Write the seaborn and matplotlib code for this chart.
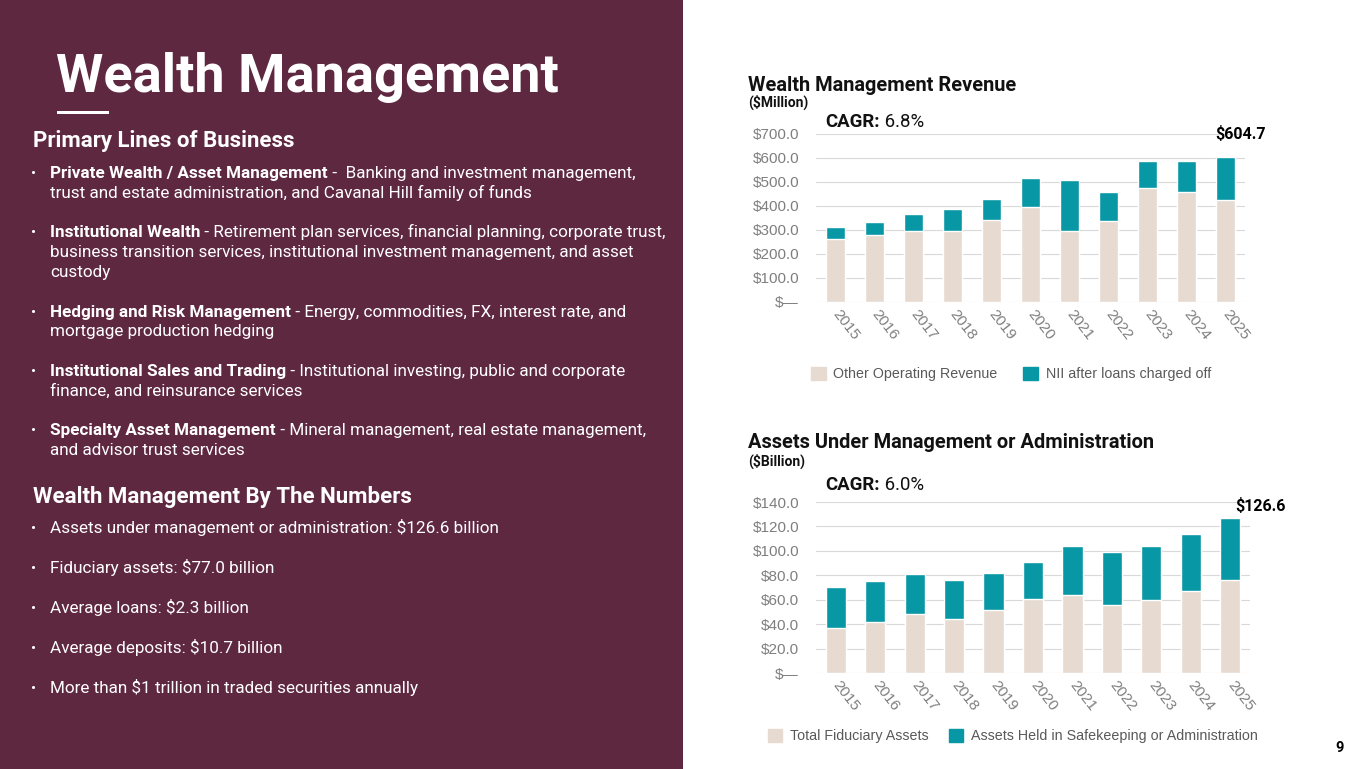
import matplotlib
matplotlib.use("Agg")
import matplotlib.pyplot as plt
from matplotlib.patches import Rectangle, Patch
from matplotlib.ticker import FuncFormatter, MultipleLocator
import seaborn as sns

# data
years = [str(y) for y in range(2015, 2026)]
other_revenue = [262, 280, 295, 295, 343, 397, 297, 339, 474, 460, 424]
nii_after_chargeoffs = [49, 53, 70, 93, 85, 121, 212, 120, 115, 129, 180.7]
fiduciary_assets = [36.9, 41.8, 47.9, 44.3, 51.4, 60.3, 63.8, 55.9, 59.4, 67.1, 76.5]
safekeeping_assets = [33.9, 33.3, 33.5, 31.9, 30.8, 30.7, 40.4, 43.1, 44.8, 46.8, 50.1]

business_lines = [
    ("Private Wealth / Asset Management", " -  Banking and investment management,",
     ["trust and estate administration, and Cavanal Hill family of funds"]),
    ("Institutional Wealth", " - Retirement plan services, financial planning, corporate trust,",
     ["business transition services, institutional investment management, and asset", "custody"]),
    ("Hedging and Risk Management", " - Energy, commodities, FX, interest rate, and",
     ["mortgage production hedging"]),
    ("Institutional Sales and Trading", " - Institutional investing, public and corporate",
     ["finance, and reinsurance services"]),
    ("Specialty Asset Management", " - Mineral management, real estate management,",
     ["and advisor trust services"]),
]
numbers = [
    "Assets under management or administration: $126.6 billion",
    "Fiduciary assets: $77.0 billion",
    "Average loans: $2.3 billion",
    "Average deposits: $10.7 billion",
    "More than $1 trillion in traded securities annually",
]

MAROON = "#5f2841"
BEIGE = "#e6dad1"
TEAL = "#0897a5"
GRAY = "#7f7f7f"
ARIAL = ["Liberation Sans", "DejaVu Sans"]
W, H = 1365, 769

sns.set_style("white")
plt.rcParams["font.family"] = ["Roboto", "DejaVu Sans"]

fig = plt.figure(figsize=(13.65, 7.69), dpi=100)

# background layer in pixel coordinates (origin top-left)
bg = fig.add_axes([0, 0, 1, 1], zorder=-1)
bg.set_xlim(0, W)
bg.set_ylim(H, 0)
bg.axis("off")
bg.add_patch(Rectangle((0, 0), 683, H, facecolor=MAROON, edgecolor="none"))
bg.add_patch(Rectangle((57, 111), 52, 3, facecolor="white", edgecolor="none"))

bg.text(56, 92, "Wealth Management", color="white", fontsize=39,
        fontweight="bold", va="baseline")


def two_part(x, y, bold, rest, size, color):
    t = bg.text(x, y, bold, color=color, fontsize=size, fontweight="bold", va="baseline")
    bg.annotate(rest, xy=(1, 0), xycoords=t, color=color, fontsize=size,
                va="bottom", ha="left", annotation_clip=False)


bg.text(33, 147, "Primary Lines of Business", color="white", fontsize=16,
        fontweight="bold", va="baseline")

line_h = 19.8
y = 178
for bold, rest, more in business_lines:
    bg.text(31, y, "•", color="white", fontsize=11, va="baseline")
    two_part(50, y, bold, rest, 12.3, "white")
    for extra in more:
        y += line_h
        bg.text(50, y, extra, color="white", fontsize=12.3, va="baseline")
    y += line_h * 2

bg.text(33, 503, "Wealth Management By The Numbers", color="white", fontsize=16,
        fontweight="bold", va="baseline")
for i, item in enumerate(numbers):
    yy = 533 + 40 * i
    bg.text(31, yy, "•", color="white", fontsize=11, va="baseline")
    bg.text(50, yy, item, color="white", fontsize=12.3, va="baseline")


def money(v, _):
    return "$\u2014" if v == 0 else f"${v:,.1f}"


def stacked(rect, base, top, ymax, step, label_dx, label_dy):
    ax = fig.add_axes(rect)
    totals = [b + t for b, t in zip(base, top)]
    sns.barplot(x=years, y=totals, color=TEAL, saturation=1, width=0.51, ax=ax, zorder=3)
    sns.barplot(x=years, y=base, color=BEIGE, saturation=1, width=0.51, ax=ax, zorder=3)
    ax.set_xlim(-0.5, 10.5)
    ax.set_ylim(0, ymax)
    ax.yaxis.set_major_locator(MultipleLocator(step))
    ax.yaxis.set_major_formatter(FuncFormatter(money))
    ax.grid(axis="y", color="#d9d9d9", linewidth=0.8, zorder=0)
    ax.set_axisbelow(True)
    for s in ax.spines.values():
        s.set_visible(False)
    ax.tick_params(axis="y", length=0, pad=12.2)
    ax.tick_params(axis="x", length=0, pad=7)
    ax.set_xlabel("")
    ax.set_ylabel("")
    for lab in ax.get_yticklabels():
        lab.set_family(ARIAL)
        lab.set_fontsize(11)
        lab.set_color(GRAY)
    ax.set_xticks(range(len(years)))
    ax.set_xticklabels(years, rotation=-52, ha="left", va="center", rotation_mode="anchor",
                       family=ARIAL, fontsize=11, color=GRAY)
    ax.annotate(f"${totals[-1]:,.1f}", xy=(10, totals[-1]), xytext=(label_dx, label_dy),
                textcoords="offset pixels", ha="center", va="center",
                fontsize=11.5, fontweight="bold", color="black", annotation_clip=False)
    return ax


ax1 = stacked([816 / W, 1 - 302 / H, 429 / W, 168 / H],
              other_revenue, nii_after_chargeoffs, 700, 100, 15, 23)
ax2 = stacked([816 / W, 1 - 673 / H, 434 / W, 171 / H],
              fiduciary_assets, safekeeping_assets, 140, 20, 30, 12)

bg.text(748, 91, "Wealth Management Revenue", fontsize=14.4, fontweight="bold",
        color="#111111", va="baseline")
bg.text(748, 107, "($Million)", fontsize=10, fontweight="bold",
        color="#111111", va="baseline")
two_part(825, 127, "CAGR:", " 6.8%", 13.4, "#111111")

bg.text(748, 448, "Assets Under Management or Administration", fontsize=14.4,
        fontweight="bold", color="#111111", va="baseline")
bg.text(748, 466, "($Billion)", fontsize=10, fontweight="bold",
        color="#111111", va="baseline")
two_part(825, 490, "CAGR:", " 6.0%", 13.4, "#111111")

leg_kw = dict(ncol=2, frameon=False, handlelength=1.0, handleheight=1.0,
              handletextpad=0.55, labelcolor="#595959",
              prop={"family": ARIAL, "size": 10.3},
              loc="center", bbox_transform=fig.transFigure)
ax1.legend([Patch(color=BEIGE), Patch(color=TEAL)],
           ["Other Operating Revenue", "NII after loans charged off"],
           bbox_to_anchor=(1011 / W, 1 - 374 / H), columnspacing=1.8, **leg_kw)
ax2.legend([Patch(color=BEIGE), Patch(color=TEAL)],
           ["Total Fiduciary Assets", "Assets Held in Safekeeping or Administration"],
           bbox_to_anchor=(1013 / W, 1 - 736 / H), columnspacing=1.4, **leg_kw)

bg.text(1340, 752, "9", fontsize=10.5, fontweight="bold", color="black",
        ha="center", va="baseline")

fig.savefig("out.png", dpi=100)
